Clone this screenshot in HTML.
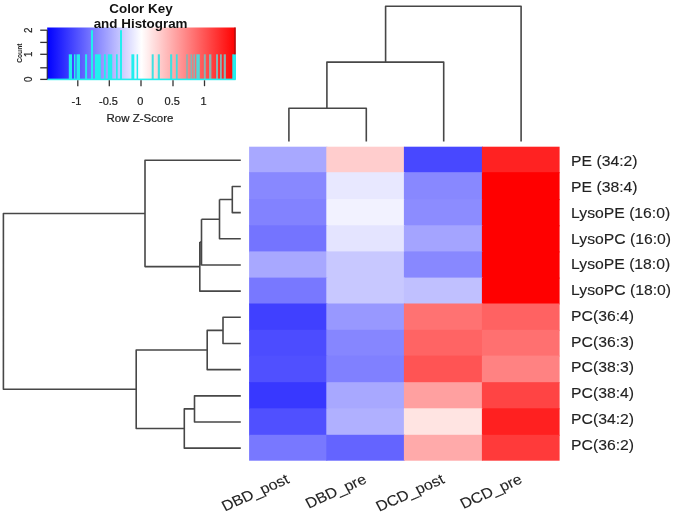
<!DOCTYPE html><html><head><meta charset="utf-8"><style>html,body{margin:0;padding:0;background:#fff;width:675px;height:516px;overflow:hidden}svg{display:block;filter:blur(0.4px)}text{font-family:"Liberation Sans",sans-serif}</style></head><body>
<svg width="675" height="516" viewBox="0 0 675 516">
<rect width="675" height="516" fill="#fff"/>
<defs><linearGradient id="g" x1="0" x2="1" y1="0" y2="0"><stop offset="0" stop-color="#0000ff"/><stop offset="0.5" stop-color="#ffffff"/><stop offset="1" stop-color="#ff0000"/></linearGradient></defs>
<rect x="47.2" y="27.5" width="188.40" height="51.90" fill="url(#g)"/>
<rect x="68.8" y="54.3" width="3.20" height="25.10" fill="#22eeee"/>
<rect x="74" y="54.3" width="1.50" height="25.10" fill="#22eeee"/>
<rect x="76.5" y="54.3" width="3.50" height="25.10" fill="#22eeee"/>
<rect x="85.1" y="54.3" width="2.00" height="25.10" fill="#22eeee"/>
<rect x="91" y="30.2" width="2.00" height="49.20" fill="#22eeee"/>
<rect x="95" y="54.3" width="5.80" height="25.10" fill="#22eeee"/>
<rect x="104" y="54.3" width="1.80" height="25.10" fill="#22eeee"/>
<rect x="107.9" y="54.3" width="4.30" height="25.10" fill="#22eeee"/>
<rect x="116" y="54.3" width="1.70" height="25.10" fill="#22eeee"/>
<rect x="120" y="30.2" width="2.00" height="49.20" fill="#22eeee"/>
<rect x="131.4" y="54.3" width="2.90" height="25.10" fill="#22eeee"/>
<rect x="136.6" y="54.3" width="1.50" height="25.10" fill="#22eeee"/>
<rect x="151.7" y="54.3" width="2.00" height="25.10" fill="#40e0e0"/>
<rect x="157.8" y="54.3" width="2.10" height="25.10" fill="#40e0e0"/>
<rect x="170.1" y="54.3" width="2.10" height="25.10" fill="#40e0e0"/>
<rect x="175.9" y="54.3" width="1.80" height="25.10" fill="#40e0e0"/>
<rect x="186.2" y="54.3" width="1.60" height="25.10" fill="#88b4b4"/>
<rect x="190.5" y="54.3" width="1.70" height="25.10" fill="#88b4b4"/>
<rect x="193.4" y="54.3" width="1.70" height="25.10" fill="#88b4b4"/>
<rect x="196.3" y="54.3" width="3.50" height="25.10" fill="#50d8d8"/>
<rect x="203.8" y="54.3" width="2.00" height="25.10" fill="#88b4b4"/>
<rect x="209" y="54.3" width="2.40" height="25.10" fill="#88b4b4"/>
<rect x="216" y="54.3" width="2.00" height="25.10" fill="#88b4b4"/>
<rect x="220" y="54.3" width="1.80" height="25.10" fill="#88b4b4"/>
<rect x="223.7" y="54.3" width="2.20" height="25.10" fill="#88b4b4"/>
<rect x="232.3" y="54.3" width="3.70" height="25.10" fill="#22eeee"/>
<rect x="47.2" y="78.60000000000001" width="188.40" height="1.6" fill="#22eeee"/>
<rect x="234.4" y="27.5" width="1.2" height="26.80" fill="#a01010"/>
<line x1="47.2" y1="30.2" x2="47.2" y2="79.4" stroke="#222" stroke-width="1"/>
<line x1="40.2" y1="79.4" x2="47.2" y2="79.4" stroke="#333" stroke-width="1.3"/>
<line x1="40.2" y1="67.8" x2="47.2" y2="67.8" stroke="#333" stroke-width="1.3"/>
<line x1="40.2" y1="54.3" x2="47.2" y2="54.3" stroke="#333" stroke-width="1.3"/>
<line x1="40.2" y1="42.4" x2="47.2" y2="42.4" stroke="#333" stroke-width="1.3"/>
<line x1="40.2" y1="30.2" x2="47.2" y2="30.2" stroke="#333" stroke-width="1.3"/>
<text transform="translate(31.6,79.4) scale(1.1,1) rotate(-90)" text-anchor="middle" font-size="9.8" fill="#222" stroke="#222" stroke-width="0.2">0</text>
<text transform="translate(31.6,54.3) scale(1.1,1) rotate(-90)" text-anchor="middle" font-size="9.8" fill="#222" stroke="#222" stroke-width="0.2">1</text>
<text transform="translate(31.6,30.2) scale(1.1,1) rotate(-90)" text-anchor="middle" font-size="9.8" fill="#222" stroke="#222" stroke-width="0.2">2</text>
<text transform="translate(21.6,53.2) rotate(-90)" text-anchor="middle" font-size="6.7" font-weight="bold" fill="#222">Count</text>
<line x1="77.8" y1="80.3" x2="77.8" y2="86.2" stroke="#333" stroke-width="1.3"/>
<text x="76.39999999999999" y="104.6" text-anchor="middle" font-size="10.3" fill="#222" stroke="#222" stroke-width="0.2" transform="translate(76.39999999999999,0) scale(1.07,1) translate(-76.39999999999999,0)">-1</text>
<line x1="109.3" y1="80.3" x2="109.3" y2="86.2" stroke="#333" stroke-width="1.3"/>
<text x="108.5" y="104.6" text-anchor="middle" font-size="10.3" fill="#222" stroke="#222" stroke-width="0.2" transform="translate(108.5,0) scale(1.07,1) translate(-108.5,0)">-0.5</text>
<line x1="141" y1="80.3" x2="141" y2="86.2" stroke="#333" stroke-width="1.3"/>
<text x="140.2" y="104.6" text-anchor="middle" font-size="10.3" fill="#222" stroke="#222" stroke-width="0.2" transform="translate(140.2,0) scale(1.07,1) translate(-140.2,0)">0</text>
<line x1="173" y1="80.3" x2="173" y2="86.2" stroke="#333" stroke-width="1.3"/>
<text x="172.2" y="104.6" text-anchor="middle" font-size="10.3" fill="#222" stroke="#222" stroke-width="0.2" transform="translate(172.2,0) scale(1.07,1) translate(-172.2,0)">0.5</text>
<line x1="204.5" y1="80.3" x2="204.5" y2="86.2" stroke="#333" stroke-width="1.3"/>
<text x="203.7" y="104.6" text-anchor="middle" font-size="10.3" fill="#222" stroke="#222" stroke-width="0.2" transform="translate(203.7,0) scale(1.07,1) translate(-203.7,0)">1</text>
<text x="140" y="122.2" text-anchor="middle" font-size="10.3" fill="#222" stroke="#222" stroke-width="0.2" transform="translate(140,0) scale(1.115,1) translate(-140,0)">Row Z-Score</text>
<text x="141" y="12.7" text-anchor="middle" font-size="12.2" font-weight="bold" fill="#111" transform="translate(141,0) scale(1.1,1) translate(-141,0)">Color Key</text>
<text x="140.6" y="27.6" text-anchor="middle" font-size="12.2" font-weight="bold" fill="#111" transform="translate(140.6,0) scale(1.1,1) translate(-140.6,0)">and Histogram</text>
<rect x="249.1" y="146.70" width="78.20" height="26.50" fill="#a8a8ff"/>
<rect x="326.3" y="146.70" width="78.60" height="26.50" fill="#ffcdcd"/>
<rect x="403.9" y="146.70" width="79.00" height="26.50" fill="#4848ff"/>
<rect x="481.9" y="146.70" width="77.70" height="26.50" fill="#ff2222"/>
<rect x="249.1" y="172.20" width="78.20" height="27.90" fill="#8888ff"/>
<rect x="326.3" y="172.20" width="78.60" height="27.90" fill="#e8e8ff"/>
<rect x="403.9" y="172.20" width="79.00" height="27.90" fill="#8888ff"/>
<rect x="481.9" y="172.20" width="77.70" height="27.90" fill="#ff0000"/>
<rect x="249.1" y="199.10" width="78.20" height="27.20" fill="#8282ff"/>
<rect x="326.3" y="199.10" width="78.60" height="27.20" fill="#f2f2ff"/>
<rect x="403.9" y="199.10" width="79.00" height="27.20" fill="#8c8cff"/>
<rect x="481.9" y="199.10" width="77.70" height="27.20" fill="#ff0000"/>
<rect x="249.1" y="225.30" width="78.20" height="27.10" fill="#7474ff"/>
<rect x="326.3" y="225.30" width="78.60" height="27.10" fill="#e4e4ff"/>
<rect x="403.9" y="225.30" width="79.00" height="27.10" fill="#a4a4ff"/>
<rect x="481.9" y="225.30" width="77.70" height="27.10" fill="#ff0000"/>
<rect x="249.1" y="251.40" width="78.20" height="27.20" fill="#a8a8ff"/>
<rect x="326.3" y="251.40" width="78.60" height="27.20" fill="#c8c8ff"/>
<rect x="403.9" y="251.40" width="79.00" height="27.20" fill="#8888ff"/>
<rect x="481.9" y="251.40" width="77.70" height="27.20" fill="#ff0000"/>
<rect x="249.1" y="277.60" width="78.20" height="26.90" fill="#7878ff"/>
<rect x="326.3" y="277.60" width="78.60" height="26.90" fill="#c8c8ff"/>
<rect x="403.9" y="277.60" width="79.00" height="26.90" fill="#c0c0ff"/>
<rect x="481.9" y="277.60" width="77.70" height="26.90" fill="#ff0000"/>
<rect x="249.1" y="303.50" width="78.20" height="27.30" fill="#4040ff"/>
<rect x="326.3" y="303.50" width="78.60" height="27.30" fill="#9898ff"/>
<rect x="403.9" y="303.50" width="79.00" height="27.30" fill="#ff7272"/>
<rect x="481.9" y="303.50" width="77.70" height="27.30" fill="#ff6262"/>
<rect x="249.1" y="329.80" width="78.20" height="26.80" fill="#4c4cff"/>
<rect x="326.3" y="329.80" width="78.60" height="26.80" fill="#8686ff"/>
<rect x="403.9" y="329.80" width="79.00" height="26.80" fill="#ff6464"/>
<rect x="481.9" y="329.80" width="77.70" height="26.80" fill="#ff7070"/>
<rect x="249.1" y="355.60" width="78.20" height="27.60" fill="#5050ff"/>
<rect x="326.3" y="355.60" width="78.60" height="27.60" fill="#8080ff"/>
<rect x="403.9" y="355.60" width="79.00" height="27.60" fill="#ff5454"/>
<rect x="481.9" y="355.60" width="77.70" height="27.60" fill="#ff8282"/>
<rect x="249.1" y="382.20" width="78.20" height="27.10" fill="#3838ff"/>
<rect x="326.3" y="382.20" width="78.60" height="27.10" fill="#a8a8ff"/>
<rect x="403.9" y="382.20" width="79.00" height="27.10" fill="#ffa0a0"/>
<rect x="481.9" y="382.20" width="77.70" height="27.10" fill="#ff4444"/>
<rect x="249.1" y="408.30" width="78.20" height="27.50" fill="#5050ff"/>
<rect x="326.3" y="408.30" width="78.60" height="27.50" fill="#b0b0ff"/>
<rect x="403.9" y="408.30" width="79.00" height="27.50" fill="#ffe4e2"/>
<rect x="481.9" y="408.30" width="77.70" height="27.50" fill="#ff2020"/>
<rect x="249.1" y="434.80" width="78.20" height="25.90" fill="#7878ff"/>
<rect x="326.3" y="434.80" width="78.60" height="25.90" fill="#6464ff"/>
<rect x="403.9" y="434.80" width="79.00" height="25.90" fill="#ffaaaa"/>
<rect x="481.9" y="434.80" width="77.70" height="25.90" fill="#ff3a3a"/>
<text x="571.1" y="166.30" font-size="14.7" fill="#222" stroke="#222" stroke-width="0.12" transform="translate(571.1,0) scale(1.072,1) translate(-571.1,0)">PE (34:2)</text>
<text x="571.1" y="192.07" font-size="14.7" fill="#222" stroke="#222" stroke-width="0.12" transform="translate(571.1,0) scale(1.072,1) translate(-571.1,0)">PE (38:4)</text>
<text x="571.1" y="217.84" font-size="14.7" fill="#222" stroke="#222" stroke-width="0.12" transform="translate(571.1,0) scale(1.072,1) translate(-571.1,0)">LysoPE (16:0)</text>
<text x="571.1" y="243.61" font-size="14.7" fill="#222" stroke="#222" stroke-width="0.12" transform="translate(571.1,0) scale(1.072,1) translate(-571.1,0)">LysoPC (16:0)</text>
<text x="571.1" y="269.38" font-size="14.7" fill="#222" stroke="#222" stroke-width="0.12" transform="translate(571.1,0) scale(1.072,1) translate(-571.1,0)">LysoPE (18:0)</text>
<text x="571.1" y="295.15" font-size="14.7" fill="#222" stroke="#222" stroke-width="0.12" transform="translate(571.1,0) scale(1.072,1) translate(-571.1,0)">LysoPC (18:0)</text>
<text x="571.1" y="320.92" font-size="14.7" fill="#222" stroke="#222" stroke-width="0.12" transform="translate(571.1,0) scale(1.072,1) translate(-571.1,0)">PC(36:4)</text>
<text x="571.1" y="346.69" font-size="14.7" fill="#222" stroke="#222" stroke-width="0.12" transform="translate(571.1,0) scale(1.072,1) translate(-571.1,0)">PC(36:3)</text>
<text x="571.1" y="372.46" font-size="14.7" fill="#222" stroke="#222" stroke-width="0.12" transform="translate(571.1,0) scale(1.072,1) translate(-571.1,0)">PC(38:3)</text>
<text x="571.1" y="398.23" font-size="14.7" fill="#222" stroke="#222" stroke-width="0.12" transform="translate(571.1,0) scale(1.072,1) translate(-571.1,0)">PC(38:4)</text>
<text x="571.1" y="424.00" font-size="14.7" fill="#222" stroke="#222" stroke-width="0.12" transform="translate(571.1,0) scale(1.072,1) translate(-571.1,0)">PC(34:2)</text>
<text x="571.1" y="449.77" font-size="14.7" fill="#222" stroke="#222" stroke-width="0.12" transform="translate(571.1,0) scale(1.072,1) translate(-571.1,0)">PC(36:2)</text>
<path d="M288.9 141.5V108.3H366.3V141.5 M326.9 108.3V62.1H443.7V141.5 M385.6 62.1V6.3H521.1V141.5" stroke="#474747" stroke-width="1.6" fill="none" stroke-linejoin="round"/>
<path d="M240.8 186.47H232.3V212.64H240.8 M232.3 199.56H219.5 M240.8 238.81H219.5V199.56 M219.5 219.18H201.5 M240.8 264.98H201.5V219.18 M201.5 242.08H199.8 M240.8 291.15H199.8V242.08 M240.8 160.30H145V266.62H199.8 M240.8 317.32H223V343.49H240.8 M223 330.41H207.2V369.66H240.8 M240.8 395.83H194.5V422.00H240.8 M194.5 408.92H184.3V448.17H240.8 M207.2 350.03H136.2V428.54H184.3 M145 213.46H3.4V389.29H136.2" stroke="#474747" stroke-width="1.6" fill="none" stroke-linejoin="round"/>
<text transform="translate(290.20,482.5) scale(1.1,1) rotate(-26)" text-anchor="end" font-size="14.5" fill="#222" stroke="#222" stroke-width="0.12">DBD_post</text>
<text transform="translate(367.60,482.5) scale(1.1,1) rotate(-26)" text-anchor="end" font-size="14.5" fill="#222" stroke="#222" stroke-width="0.12">DBD_pre</text>
<text transform="translate(445.40,482.5) scale(1.1,1) rotate(-26)" text-anchor="end" font-size="14.5" fill="#222" stroke="#222" stroke-width="0.12">DCD_post</text>
<text transform="translate(523.25,482.5) scale(1.1,1) rotate(-26)" text-anchor="end" font-size="14.5" fill="#222" stroke="#222" stroke-width="0.12">DCD_pre</text>
</svg></body></html>
